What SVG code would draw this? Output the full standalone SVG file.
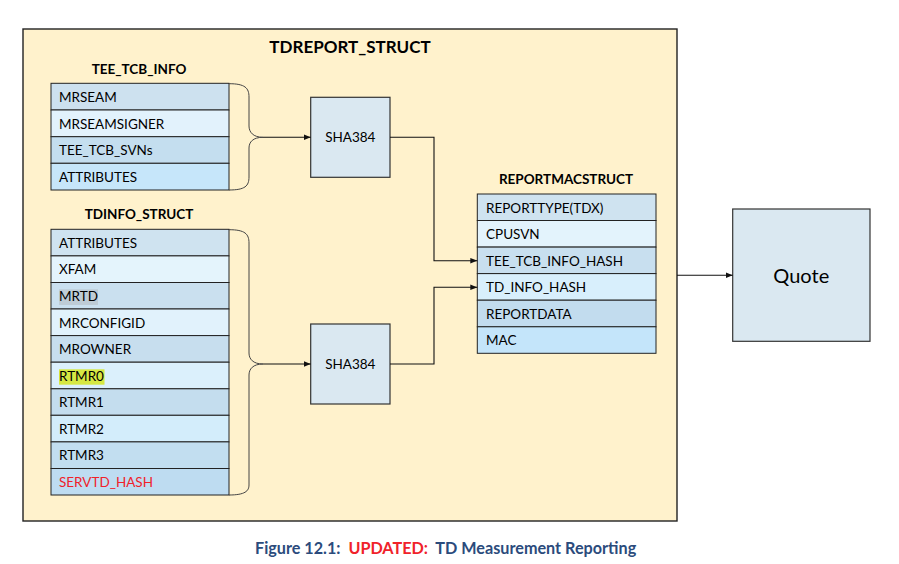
<svg xmlns="http://www.w3.org/2000/svg" width="899" height="564" viewBox="0 0 899 564">
<defs>
<style>
text{font-family:Lato,"Liberation Sans",sans-serif;fill:#000}
.row{stroke:#222;stroke-width:1}
.t{font-size:13.5px}
.h{font-size:13.5px;font-weight:bold;text-anchor:middle}
.box{fill:#DAE8F1;stroke:#333;stroke-width:1.2}
.line{fill:none;stroke:#111;stroke-width:1.1}
.brace{fill:none;stroke:#444;stroke-width:1}
</style>
<marker id="arr" viewBox="0 0 10 10" refX="10" refY="5" markerWidth="7" markerHeight="7" orient="auto" markerUnits="userSpaceOnUse"><path d="M0,1 L10,5 L0,9 z" fill="#111"/></marker>
</defs>
<rect width="899" height="564" fill="#fff"/>
<g id="tdreport_struct">
<rect x="23" y="29" width="654" height="492" fill="#FFF2CC" stroke="#222" stroke-width="1.4"/>
<text x="350" y="53" style="font-size:17px;font-weight:bold;text-anchor:middle">TDREPORT_STRUCT</text>
</g>
<g id="tee_tcb_info">
<text class="h" x="139" y="74">TEE_TCB_INFO</text>
<rect class="row" x="51" y="83.3" width="178" height="26.7" fill="#CDE1EF"/>
<rect class="row" x="51" y="110" width="178" height="26.7" fill="#E2F2FC"/>
<rect class="row" x="51" y="136.7" width="178" height="26.6" fill="#C4DEEF"/>
<rect class="row" x="51" y="163.3" width="178" height="26.7" fill="#C6E6FA"/>
<text class="t" x="59" y="102">MRSEAM</text>
<text class="t" x="59" y="128.7">MRSEAMSIGNER</text>
<text class="t" x="59" y="155.4">TEE_TCB_SVNs</text>
<text class="t" x="59" y="182">ATTRIBUTES</text>
</g>
<g id="tdinfo_struct">
<text class="h" x="139" y="219">TDINFO_STRUCT</text>
<rect class="row" x="51" y="229.3" width="178" height="26.6" fill="#CFE3F0"/>
<rect class="row" x="51" y="255.9" width="178" height="26.6" fill="#E4F4FC"/>
<rect class="row" x="51" y="282.5" width="178" height="26.5" fill="#CAE0EF"/>
<rect class="row" x="51" y="309" width="178" height="26.6" fill="#E1F2FC"/>
<rect class="row" x="51" y="335.6" width="178" height="26.6" fill="#C7DEEE"/>
<rect class="row" x="51" y="362.2" width="178" height="26.6" fill="#DBF0FC"/>
<rect class="row" x="51" y="388.8" width="178" height="26.5" fill="#C4DDEE"/>
<rect class="row" x="51" y="415.3" width="178" height="26.6" fill="#D3EDFB"/>
<rect class="row" x="51" y="441.9" width="178" height="26.6" fill="#C2DEF0"/>
<rect class="row" x="51" y="468.5" width="178" height="26.5" fill="#BEDCF1"/>
<rect x="59" y="289.3" width="39" height="15.7" fill="#BECCD6"/>
<rect x="59" y="369.3" width="45.5" height="15.4" fill="#D6E843"/>
<text class="t" x="59" y="247.8">ATTRIBUTES</text>
<text class="t" x="59" y="274.4">XFAM</text>
<text class="t" x="59" y="301">MRTD</text>
<text class="t" x="59" y="327.5">MRCONFIGID</text>
<text class="t" x="59" y="354.1">MROWNER</text>
<text class="t" x="59" y="380.7">RTMR0</text>
<text class="t" x="59" y="407.3">RTMR1</text>
<text class="t" x="59" y="433.8">RTMR2</text>
<text class="t" x="59" y="460.4">RTMR3</text>
<text class="t" x="59" y="487" style="fill:#F0222A">SERVTD_HASH</text>
</g>
<g id="sha384_1">
<rect class="box" x="310.7" y="97.3" width="79.3" height="80"/>
<text x="350.3" y="142" style="font-size:13.5px;text-anchor:middle">SHA384</text>
</g>
<g id="sha384_2">
<rect class="box" x="310.7" y="324" width="79.3" height="80"/>
<text x="350.3" y="369" style="font-size:13.5px;text-anchor:middle">SHA384</text>
</g>
<g id="reportmacstruct">
<text class="h" x="566" y="184">REPORTMACSTRUCT</text>
<rect class="row" x="477.3" y="194" width="178.7" height="26.5" fill="#CFE3F0"/>
<rect class="row" x="477.3" y="220.5" width="178.7" height="26.6" fill="#E3F3FC"/>
<rect class="row" x="477.3" y="247.1" width="178.7" height="26.5" fill="#C8DFEF"/>
<rect class="row" x="477.3" y="273.6" width="178.7" height="26.6" fill="#D8EFFC"/>
<rect class="row" x="477.3" y="300.2" width="178.7" height="26.6" fill="#C2DCEE"/>
<rect class="row" x="477.3" y="326.8" width="178.7" height="26.5" fill="#C4E5FA"/>
<text class="t" x="486" y="212.5">REPORTTYPE(TDX)</text>
<text class="t" x="486" y="239">CPUSVN</text>
<text class="t" x="486" y="265.6">TEE_TCB_INFO_HASH</text>
<text class="t" x="486" y="292.1">TD_INFO_HASH</text>
<text class="t" x="486" y="318.7">REPORTDATA</text>
<text class="t" x="486" y="345.3">MAC</text>
</g>
<g id="quote">
<rect class="box" x="732.7" y="209" width="137.3" height="132.3"/>
<text x="801.3" y="283" style="font-size:20px;text-anchor:middle">Quote</text>
</g>
<g id="connectors">
<path class="brace" d="M229,83.7 C245,83.7 249,88 249,97 L249,126 C249,132 253,137.3 263,137.3 C253,137.3 249,142 249,148 L249,177 C249,186 245,190 229,190"/>
<path class="brace" d="M229,229.7 C245,229.7 249,234 249,243 L249,353 C249,359 253,364 263,364 C253,364 249,369 249,375 L249,485 C249,491 245,495 229,495"/>
<line class="line" x1="263" y1="137.3" x2="310.7" y2="137.3" marker-end="url(#arr)"/>
<line class="line" x1="263" y1="364" x2="310.7" y2="364" marker-end="url(#arr)"/>
<polyline class="line" points="390,137.3 434,137.3 434,260.7 477.3,260.7" marker-end="url(#arr)"/>
<polyline class="line" points="390,364 434,364 434,287.3 477.3,287.3" marker-end="url(#arr)"/>
<line class="line" x1="677" y1="275.3" x2="732.7" y2="275.3" marker-end="url(#arr)"/>
</g>
<g id="caption">
<text x="255" y="554" style="font-size:16.2px;font-weight:bold;fill:#2B4B7C" xml:space="preserve">Figure 12.1:  <tspan style="fill:#F0222A">UPDATED:</tspan>  TD Measurement Reporting</text>
</g>
</svg>
